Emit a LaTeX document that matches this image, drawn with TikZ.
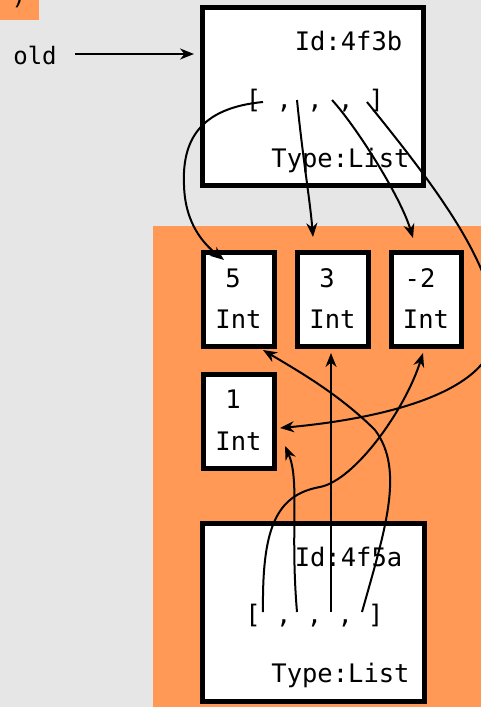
\documentclass[tikz,border=0pt]{standalone}
\usepackage{fontspec}
\setmonofont{DejaVu Sans Mono}
\usetikzlibrary{arrows.meta}
\definecolor{bggray}{HTML}{E6E6E6}
\definecolor{orng}{HTML}{FF9955}
\tikzset{
  objbox/.style={draw=black, fill=white, line width=5pt, inner sep=0pt, outer sep=0pt},
  lbl/.style={font=\ttfamily\fontsize{25.5}{30}\selectfont, inner sep=0pt, anchor=base},
  ptr/.style={line width=2pt, -{Stealth[length=14pt,width=11pt,inset=4.5pt]}},
}
\begin{document}
\begin{tikzpicture}[x=1pt,y=-1pt]
\useasboundingbox (0,0) rectangle (481,707);
\fill[bggray] (0,0) rectangle (481,707);
\fill[orng] (153,226) rectangle (481,707);
\fill[orng] (0,0) rectangle (39,20);
\node[lbl] (tag) at (19,4) {)};

% old variable
\node[lbl, font=\ttfamily\fontsize{24}{28}\selectfont] (oldname) at (35,64) {old};
\coordinate (oldstart) at (75,54);

% old list object
\node[objbox, minimum width=221pt, minimum height=178pt] (oldobj) at (312.75,96.5) {};
\node[lbl] (oldid) at (348.5,50) {Id:4f3b};
\node[lbl] (oldlist) at (315,108) {[ , , , ]};
\node[lbl] (oldtype) at (340.5,167) {Type:List};

% int objects
\node[objbox, minimum width=70.5pt, minimum height=94.5pt] (b5) at (239,299.25) {};
\node[objbox, minimum width=70.5pt, minimum height=94.5pt] (b3) at (333,299.25) {};
\node[objbox, minimum width=70.5pt, minimum height=94.5pt] (bm2) at (426.25,299.25) {};
\node[objbox, minimum width=70.5pt, minimum height=94pt] (b1) at (239,421) {};
\node[lbl] (v5) at (233,287) {5};
\node[lbl] (t5) at (238.5,328) {Int};
\node[lbl] (v3) at (327,287) {3};
\node[lbl] (t3) at (332.5,328) {Int};
\node[lbl] (vm2) at (420,287) {-2};
\node[lbl] (tm2) at (426,328) {Int};
\node[lbl] (v1) at (233,408) {1};
\node[lbl] (t1) at (238.5,450) {Int};

% new list object
\node[objbox, minimum width=222pt, minimum height=178pt] (newobj) at (313,612.5) {};
\node[lbl] (newid) at (348.5,566) {Id:4f5a};
\node[lbl] (newlist) at (314.5,623) {[ , , , ]};
\node[lbl] (newtype) at (340.5,682) {Type:List};

% slot coordinates
\coordinate (o1) at (263,102);
\coordinate (o2) at (297,100);
\coordinate (o3) at (332,100);
\coordinate (o4) at (367,102);
\coordinate (n1) at (263,612);
\coordinate (n2) at (297,612);
\coordinate (n3) at (331,612);
\coordinate (n4) at (362,612);
% target coordinates
\coordinate (oldend) at (194,54);
\coordinate (in5) at (224,260);
\coordinate (top3) at (313,237);
\coordinate (topm2) at (413,238);
\coordinate (side1) at (280,428);
\coordinate (bot5) at (263,350);
\coordinate (bot3) at (331,353);
\coordinate (botm2) at (423,353);
\coordinate (low1) at (285,446);

% arrows
\draw[ptr] (oldstart) -- (oldend);
\draw[ptr] (o1) .. controls (200,108) and (182,140) .. (184,185)
                .. controls (185,225) and (205,245) .. (in5);
\draw[ptr] (o2) .. controls (303,160) and (310,200) .. (top3);
\draw[ptr] (o3) .. controls (355,125) and (400,195) .. (topm2);
\draw[ptr] (o4) .. controls (430,180) and (497,265) .. (495,330)
                .. controls (495,390) and (390,418) .. (side1);
\draw[ptr] (n1) .. controls (262,530) and (275,495) .. (320,487)
                .. controls (355,480) and (405,410) .. (botm2);
\draw[ptr] (n2) .. controls (290,530) and (300,480) .. (low1);
\draw[ptr] (n3) -- (bot3);
\draw[ptr] (n4) .. controls (385,530) and (405,470) .. (375,430)
                .. controls (340,395) and (300,372) .. (bot5);
\end{tikzpicture}
\end{document}
